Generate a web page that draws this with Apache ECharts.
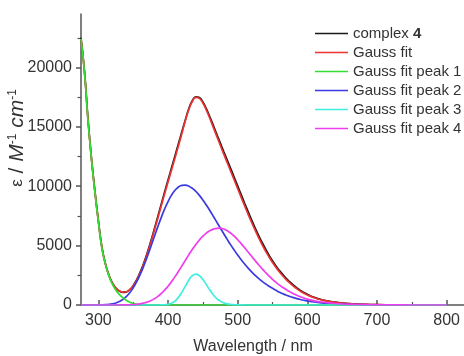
<!DOCTYPE html>
<html><head><meta charset="utf-8">
<script src="https://cdn.jsdelivr.net/npm/echarts@6/dist/echarts.min.js"></script>
<style>html,body{margin:0;padding:0;background:#fff}#c{width:464px;height:356px}</style>
</head><body><div id="c"></div>
<script>
// wavelengths (nm)
const wavelengths = [275,280,285,290,295,300,305,310,315,320, 325,330,335,340,345,350,355,360,365,370,
 375,380,385,390,395,400,405,410,415,420, 425,430,435,440,445,450,455,460,465,470,
 475,480,485,490,495,500,505,510,515,520, 525,530,535,540,545,550,555,560,565,570,
 575,580,585,590,595,600,610,620,630,640, 650,660,670,680,690,700,725,750,775,800];

const complex4 = [22500,19700,15700,12400,9600,7100,4900,3500,2520,1860,
 1420,1170,1060,1100,1290,1640,2130,2770,3520,4380,
 5320,6330,7380,8440,9500,10530,11550,12570,13600,14620,
 15620,16560,17220,17520,17460,17100,16530,15850,15120,14380,
 13650,12920,12200,11480,10760,10030,9300,8570,7860,7170,
 6500,5870,5280,4720,4200,3720,3290,2900,2560,2230,
 1940,1680,1440,1230,1050,900,640,460,330,235,
 165,115,80,58,40,28,12,6,3,0];

const gaussFit = [22400,19600,15600,12300,9500,7005,4812,3477,2503,1848,
 1423,1192,1087,1114,1286,1611,2085,2701,3438,4287,
 5216,6213,7246,8294,9335,10353,11364,12375,13415,14466,
 15550,16480,17150,17480,17400,17000,16400,15700,14950,14200,
 13450,12700,11980,11250,10520,9790,9060,8340,7630,6950,
 6300,5680,5090,4540,4040,3580,3160,2785,2440,2120,
 1840,1590,1360,1160,990,845,605,435,315,223,
 158,110,78,55,39,28,11,5,1,0];

const peak1 = [22400,19600,15600,12300,9500,7000,4800,3450,2450,1750,
 1250,900,620,400,240,130,65,30,12,5,
 0,0,0,0,0,0,0,0,0,0, 0,0,0,0,0,0,0,0,0,0,
 0,0,0,0,0,0,0,0,0,0, 0,0,0,0,0,0,0,0,0,0,
 0,0,0,0,0,0,0,0,0,0, 0,0,0,0,0,0,0,0,0,0];

const peak2 = [0,0,0,0,0,5,12,27,53,98,
 173,290,462,704,1027,1446,1959,2570,3266,4037,
 4855,5698,6535,7334,8070,8712,9248,9656,9934,10077,
 10092,10001,9820,9558,9227,8842,8412,7952,7470,6980,
 6486,5996,5522,5060,4621,4204,3812,3446,3105,2792,
 2504,2240,2000,1782,1586,1408,1240,1080,940,815,
 710,620,540,465,400,345,255,185,135,98,
 70,50,36,26,19,14,6,3,1,0];

const peak3 = [0,0,0,0,0,0,0,0,0,0,
 0,0,0,0,0,0,0,0,0,0,
 0,0,0,5,18,56,148,332,645,1087,
 1611,2111,2471,2600,2477,2151,1713,1258,857,545,
 324,180,95,48,23,10,4,2,0,0,
 0,0,0,0,0,0,0,0,0,0, 0,0,0,0,0,0,0,0,0,0, 0,0,0,0,0,0,0,0,0,0];

const peak4 = [0,0,0,0,0,0,0,0,0,0,
 0,2,5,10,19,35,61,101,160,245,
 361,515,711,955,1247,1585,1968,2387,2836,3302,
 3776,4241,4687,5102,5474,5795,6056,6256,6390,6459,
 6464,6393,6253,6049,5793,5497,5169,4821,4460,4099,
 3740,3390,3055,2738,2440,2164,1911,1679,1470,1283,
 1115,950,815,690,585,495,350,250,180,125,
 88,60,42,29,20,14,5,2,0,0];

const xTicks = [300,400,500,600,700,800];
const xMinorTicks = [350,450,550,650,750];
const yTicks = [0,5000,10000,15000,20000];
const yMinorTicks = [2500,7500,12500,17500,22500];

const names = ['complex 4','Gauss fit','Gauss fit peak 1','Gauss fit peak 2','Gauss fit peak 3','Gauss fit peak 4'];
const FONT = 'Liberation Sans, Arial, sans-serif';
const AX = '#555';

function pairs(arr){ return wavelengths.map((w,i)=>[w, arr[i]]); }
function mk(name, arr, color){
  return {name, type:'line', data:pairs(arr), symbol:'none', smooth:true,
    lineStyle:{color, width:1.7}, itemStyle:{color}, animation:false};
}

const chart = echarts.init(document.getElementById('c'));
chart.setOption({
  animation:false,
  grid:{left:81, right:0, top:14, bottom:51},
  xAxis:[
    {type:'value', min:275, max:825,
     axisLine:{show:true, lineStyle:{color:AX, width:1.5}},
     axisTick:{show:true, inside:true, length:5, customValues:xTicks, lineStyle:{color:AX, width:1.5}},
     axisLabel:{customValues:xTicks, fontSize:16, color:'#333', margin:8, fontFamily:FONT},
     splitLine:{show:false}},
    {type:'value', min:275, max:825, position:'bottom',
     axisLine:{show:false},
     axisTick:{show:true, inside:true, length:3, customValues:xMinorTicks, lineStyle:{color:AX, width:1.2}},
     axisLabel:{show:false}, splitLine:{show:false}}
  ],
  yAxis:[
    {type:'value', min:0, max:24500,
     axisLine:{show:true, lineStyle:{color:AX, width:1.5}},
     axisTick:{show:true, inside:false, length:5, customValues:yTicks, lineStyle:{color:AX, width:1.5}},
     axisLabel:{customValues:yTicks, fontSize:16, color:'#333', margin:9, fontFamily:FONT,
       formatter:(v)=>String(v)},
     splitLine:{show:false}},
    {type:'value', min:0, max:24500, position:'left',
     axisLine:{show:false},
     axisTick:{show:true, inside:false, length:3.5, customValues:yMinorTicks, lineStyle:{color:AX, width:1.2}},
     axisLabel:{show:false}, splitLine:{show:false}}
  ],
  legend:{orient:'vertical', left:315, top:26, padding:0, icon:'rect', itemWidth:33, itemHeight:1.6, itemGap:4,
    data:names,
    formatter:(n)=> n==='complex 4' ? 'complex {b|4}' : n,
    textStyle:{fontSize:15, lineHeight:14, color:'#333', fontFamily:FONT,
      rich:{b:{fontSize:15, lineHeight:14, fontWeight:'bold', color:'#333', fontFamily:FONT}}}},
  graphic:[
    {type:'text', x:17, y:138, rotation:Math.PI/2,
     style:{text:'{e|ε} / {i|M}{s|-1} {i|cm}{s|-1}', align:'center', verticalAlign:'middle',
       fill:'#333', fontSize:21, fontFamily:FONT,
       rich:{e:{fontSize:17, fontFamily:FONT, fill:'#333'},
             i:{fontSize:21, fontStyle:'italic', fontFamily:FONT, fill:'#333'},
             s:{fontSize:12, verticalAlign:'top', fontFamily:FONT, fill:'#333'}}}},
    {type:'text', x:253, y:347,
     style:{text:'Wavelength / nm', align:'center', verticalAlign:'middle', fill:'#333', fontSize:16, fontFamily:FONT}}
  ],
  series:[
    mk('complex 4', complex4, '#1a1a1a'),
    mk('Gauss fit', gaussFit, '#ee3333'),
    mk('Gauss fit peak 2', peak2, '#3a3ae0'),
    mk('Gauss fit peak 1', peak1, '#33dd33'),
    mk('Gauss fit peak 3', peak3, '#3eeee0'),
    mk('Gauss fit peak 4', peak4, '#ee3cee')
  ]
});
</script></body></html>
